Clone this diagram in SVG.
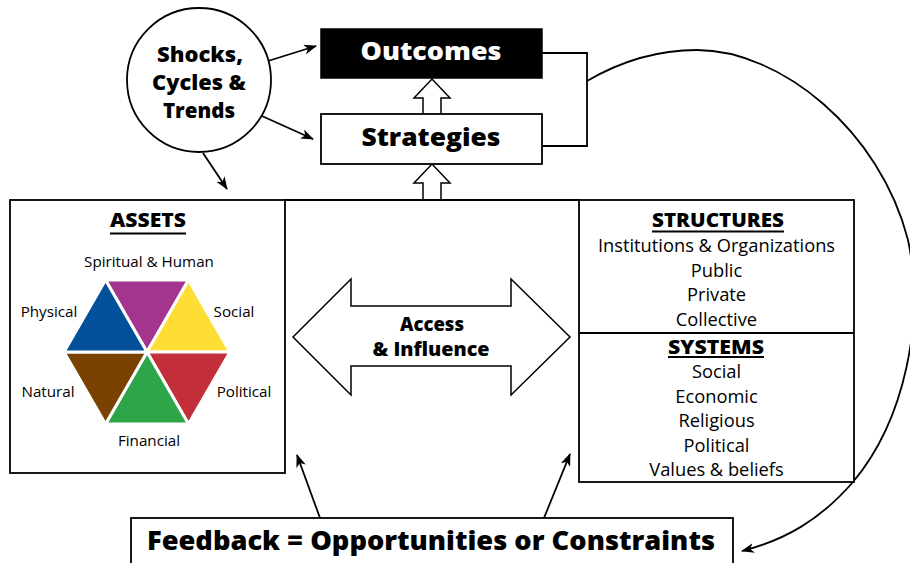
<svg xmlns="http://www.w3.org/2000/svg" width="910" height="563" viewBox="0 0 910 563">
<style>
  .b{font-family:"Open Sans","DejaVu Sans",sans-serif;font-weight:800;fill:#000;text-anchor:middle}
  .r{font-family:"Open Sans","DejaVu Sans",sans-serif;fill:#000;text-anchor:middle}
  .box{fill:#fff;stroke:#000;stroke-width:1.8}
  .ln{fill:none;stroke:#000;stroke-width:1.8}
  .con{fill:none;stroke:#000;stroke-width:1.8;marker-end:url(#ah)}
  .blk{fill:#fff;stroke:#000;stroke-width:1.5;stroke-linejoin:miter}
  .tri{stroke:#fff;stroke-width:3;stroke-linejoin:miter}
  .ul{stroke:#000;stroke-width:2}
</style>
<defs>
  <marker id="ah" viewBox="0 0 13 10" refX="12" refY="5" markerWidth="13" markerHeight="10" markerUnits="userSpaceOnUse" orient="auto">
    <path d="M0,0 L13,5 L0,10 L3.5,5 z" fill="#000"/>
  </marker>
</defs>
<rect width="910" height="563" fill="#fff"/>

<g id="connectors">
  <path class="ln" d="M542,53 H587 V146 H542"/>
  <path class="con" d="M587,81 Q640,50 697,50 C780,50 880,130 908,240 C925,320 905,420 853,482 C820,520 785,540 742,551"/>
  <line class="con" x1="268" y1="61" x2="316" y2="46"/>
  <line class="con" x1="262" y1="116" x2="313" y2="139"/>
  <line class="con" x1="203" y1="153" x2="227" y2="189"/>
  <line class="con" x1="320" y1="518" x2="297" y2="455"/>
  <line class="con" x1="544" y1="518" x2="570" y2="454"/>
  <path class="blk" d="M423,114 V98 H414 L432,79 L450,98 H441 V114"/>
  <path class="blk" d="M423,200 V183 H414 L432,164 L450,183 H441 V200"/>
</g>

<g id="shocks">
  <circle cx="199" cy="80" r="72" fill="#fff" stroke="#000" stroke-width="1.8"/>
  <text class="b" x="200" y="62" font-size="21.5" textLength="86" lengthAdjust="spacingAndGlyphs">Shocks,</text>
  <text class="b" x="199" y="90" font-size="21.5" textLength="94" lengthAdjust="spacingAndGlyphs">Cycles &amp;</text>
  <text class="b" x="199" y="118" font-size="21.5" textLength="72" lengthAdjust="spacingAndGlyphs">Trends</text>
</g>

<g id="outcomes">
  <rect x="321" y="29" width="221" height="49" fill="#000" stroke="#000" stroke-width="1.5"/>
  <text class="b" x="431" y="60" font-size="25" textLength="141" lengthAdjust="spacingAndGlyphs" style="fill:#fff">Outcomes</text>
</g>

<g id="strategies">
  <rect class="box" x="321" y="114" width="221" height="50"/>
  <text class="b" x="431" y="146" font-size="25" textLength="139" lengthAdjust="spacingAndGlyphs">Strategies</text>
</g>

<g id="frame">
  <line class="ln" x1="285" y1="200" x2="579" y2="200"/>
</g>

<g id="assets">
  <rect class="box" x="10" y="200" width="275" height="273"/>
  <text class="b" x="148" y="227" font-size="19" textLength="76" lengthAdjust="spacingAndGlyphs">ASSETS</text>
  <line class="ul" x1="110" y1="233.5" x2="186" y2="233.5"/>
  <g id="hexagon">
    <polygon class="tri" fill="#A4358F" points="105.5,280 188.5,280 147,352"/>
    <polygon class="tri" fill="#FEDD34" points="188.5,280 230,352 147,352"/>
    <polygon class="tri" fill="#C22F3A" points="147,352 230,352 188.5,424"/>
    <polygon class="tri" fill="#2EA548" points="147,352 188.5,424 105.5,424"/>
    <polygon class="tri" fill="#7A4201" points="64,352 147,352 105.5,424"/>
    <polygon class="tri" fill="#03509A" points="105.5,280 147,352 64,352"/>
  </g>
  <text class="r" x="149" y="267" font-size="15.2">Spiritual &amp; Human</text>
  <text class="r" x="49" y="317" font-size="15.2">Physical</text>
  <text class="r" x="234" y="317" font-size="15.2">Social</text>
  <text class="r" x="48" y="397" font-size="15.2">Natural</text>
  <text class="r" x="244" y="397" font-size="15.2">Political</text>
  <text class="r" x="149" y="446" font-size="15.2">Financial</text>
</g>

<g id="access">
  <path class="blk" d="M293,337 L351,279 V306 H511 V279 L570,337 L511,395 V366 H351 V395 Z"/>
  <text class="b" x="432" y="331" font-size="19" textLength="64" lengthAdjust="spacingAndGlyphs">Access</text>
  <text class="b" x="431" y="356" font-size="19" textLength="117" lengthAdjust="spacingAndGlyphs">&amp; Influence</text>
</g>

<g id="structures">
  <rect class="box" x="579" y="200" width="275" height="282"/>
  <line class="ln" x1="579" y1="333" x2="854" y2="333"/>
  <text class="b" x="718" y="227" font-size="19" textLength="132" lengthAdjust="spacingAndGlyphs">STRUCTURES</text>
  <line class="ul" x1="652" y1="231.5" x2="784" y2="231.5"/>
  <text class="r" x="716.5" y="252" font-size="18.3">Institutions &amp; Organizations</text>
  <text class="r" x="716.5" y="276.5" font-size="18.3">Public</text>
  <text class="r" x="716.5" y="301" font-size="18.3">Private</text>
  <text class="r" x="716.5" y="325.5" font-size="18.3">Collective</text>
</g>

<g id="systems">
  <text class="b" x="716" y="353.5" font-size="19" textLength="96" lengthAdjust="spacingAndGlyphs">SYSTEMS</text>
  <line class="ul" x1="668" y1="357" x2="764" y2="357"/>
  <text class="r" x="716.5" y="378" font-size="18.3">Social</text>
  <text class="r" x="716.5" y="402.5" font-size="18.3">Economic</text>
  <text class="r" x="716.5" y="427" font-size="18.3">Religious</text>
  <text class="r" x="716.5" y="451.5" font-size="18.3">Political</text>
  <text class="r" x="716.5" y="476" font-size="18.3">Values &amp; beliefs</text>
</g>

<g id="feedback">
  <rect class="box" x="131" y="518" width="602" height="60"/>
  <text class="b" x="431" y="550" font-size="26" textLength="568" lengthAdjust="spacingAndGlyphs">Feedback = Opportunities or Constraints</text>
</g>
</svg>
